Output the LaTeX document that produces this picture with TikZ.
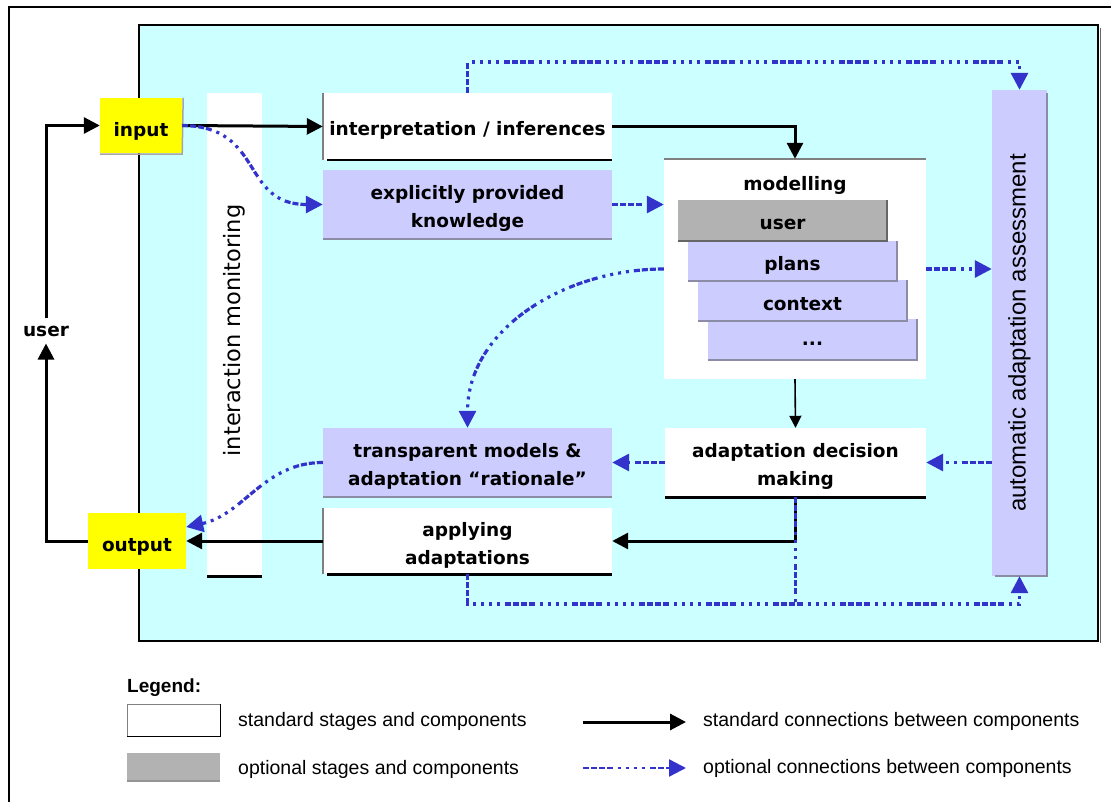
\documentclass[tikz,border=0pt]{standalone}
\usepackage{fontspec}
\setmainfont{DejaVu Sans}
\newfontfamily\arialf{Liberation Sans}
\usetikzlibrary{arrows.meta}

\definecolor{cyanbg}{HTML}{CCFFFF}
\definecolor{lav}{HTML}{CCCCFF}
\definecolor{optgrey}{HTML}{B2B2B2}
\definecolor{optblue}{HTML}{3333CC}
\definecolor{yel}{HTML}{FFFF00}
\definecolor{shadowcol}{HTML}{8C8CA6}
\definecolor{darkshadow}{HTML}{666666}

\tikzset{
  lbl/.style={font=\fontsize{18.5}{28}\selectfont\bfseries, align=center, inner sep=0pt},
  txt/.style={lbl, yshift=-4pt},
  iotxt/.style={lbl, yshift=-6pt},
  wh/.style 2 args={minimum width=#1pt, minimum height=#2pt, inner sep=0pt},
  stdbox/.style={fill=white},
  optbox/.style={fill=lav},
  iobox/.style={fill=yel},
  stackbox/.style={fill=lav, wh={209}{40}},
  stdline/.style={-{Triangle[length=16pt,width=16pt]}, line width=3pt},
  thinline/.style={-{Triangle[length=12pt,width=12pt]}, line width=1.6pt},
  optdash/.style={optblue, line width=3.2pt,
    dash pattern=on 6pt off 2pt on 6pt off 2pt on 6pt off 2pt on 6pt off 5pt on 3pt off 5pt on 3pt off 5pt on 3pt off 5pt on 3pt off 5pt},
  optline/.style={optdash, -{Triangle[length=17pt,width=17pt]}},
  shline/.style={draw=shadowcol, line width=2pt},
  baseline/.style={draw=black, line width=2.6pt},
  edgeline/.style={draw=gray, line width=2pt},
  legtext/.style={font=\arialf\fontsize{19.5}{22}\selectfont, anchor=west, inner sep=0pt},
}

\begin{document}
\begin{tikzpicture}[x=1pt, y=-1pt]
\useasboundingbox (0,0) rectangle (1111,802);

% outer frame (runs off the page on the right and bottom)
\draw[line width=2.2pt] (9,802) -- (9,7) -- (1111,7);

% system area
\draw[fill=cyanbg, line width=2.8pt] (139,25) rectangle (1098,641);
\draw[draw=darkshadow, line width=1.5pt] (1100.5,28) -- (1100.5,643);

% interaction monitoring column
\node[stdbox, wh={55}{483}] (imon) at (234.5,334.5) {};
\node[font=\fontsize{22.5}{26}\selectfont, rotate=90] at ([yshift=4pt]imon.center) {interaction monitoring};
\draw[baseline] (imon.south west) -- (imon.south east);

% input / output
\node[iobox, wh={82}{55}, label={[iotxt]center:input}] (input) at (141,125.5) {};
\draw[draw=gray!70, line width=1.5pt] ([yshift=-1pt]input.south west) -- ([yshift=-1pt]input.south east) -- ([xshift=1pt]input.north east);
\node[iobox, wh={98}{56}, label={[iotxt]center:output}] (output) at (137,541) {};

% left column of stages
\node[stdbox, wh={289}{67}, label={[txt]center:interpretation / inferences}] (interp) at (467.5,126.5) {};
\draw[edgeline] (interp.north west) -- (interp.south west);
\draw[baseline] ([xshift=4pt]interp.south west) -- (interp.south east);

\node[optbox, wh={289}{69}, label={[txt]center:{explicitly provided\\knowledge}}] (explicit) at (467.5,204.5) {};
\draw[shline] (explicit.south west) -- (explicit.south east);

\node[optbox, wh={289}{69}, label={[txt]center:{transparent models \&\\adaptation “rationale”}}] (trans) at (467.5,462.5) {};
\draw[shline] (trans.south west) -- (trans.south east);

\node[stdbox, wh={289}{66}, label={[txt]center:{applying\\adaptations}}] (applying) at (467.5,541) {};
\draw[edgeline] (applying.north west) -- (applying.south west);
\draw[baseline] ([xshift=4pt]applying.south west) -- (applying.south east);

% modelling block
\node[stdbox, wh={262}{220}] (model) at (795,269) {};
\draw[edgeline, line width=1.5pt] (model.north west) -- (model.north east);
\node[txt] (modtitle) at (795,181) {modelling};
\node[stackbox, label={[txt]center:...}] (dots) at (812.5,339.5) {};
\draw[shline] (dots.south west) -- (dots.south east) -- (dots.north east);
\node[stackbox, label={[txt]center:context}] (context) at (802.5,300.5) {};
\draw[shline] (context.south west) -- (context.south east) -- (context.north east);
\node[stackbox, label={[txt]center:plans}] (plans) at (792.5,261) {};
\draw[shline] (plans.south west) -- (plans.south east) -- (plans.north east);
\node[fill=optgrey, wh={209}{41}, label={[txt]center:user}] (user) at (782.5,220.5) {};
\draw[draw=darkshadow, line width=2pt] (user.south west) -- (user.south east) -- (user.north east);

\node[stdbox, wh={261}{69}, label={[txt]center:{adaptation decision\\making}}] (decision) at (795.5,462.5) {};
\draw[baseline] (decision.south west) -- (decision.south east);

% automatic assessment column
\node[optbox, wh={55}{486}] (auto) at (1019.5,333) {};
\draw[shline] ([xshift=3pt]auto.south west) -- (auto.south east) -- ([yshift=-3pt]auto.north east);
\node[font=\arialf\fontsize{24}{28}\selectfont, rotate=90] at (auto.center) {automatic adaptation assessment};

% user label outside the system
\node[lbl, inner sep=7pt] (userlbl) at (46,331) {user};

% standard connections
\draw[stdline] (userlbl.north) |- (input.west);
\draw[stdline] (output.west) -| (userlbl.south);
\draw[stdline] (input.east) -- (interp.west);
\draw[stdline] (interp.east) -| (model.north);
\draw[thinline] (model.south) -- (decision.north);
\draw[stdline] (decision.south) |- (applying.east);
\draw[stdline] (applying.west) -- (output.east);

% optional connections
\coordinate (topturn) at (1019.5,62);
\coordinate (botturn) at (1019.5,604);
\draw[optline] (input.east) .. controls (265,126) and (240,204.5) .. (explicit.west);
\draw[optline] (explicit.east) -- (explicit.east -| model.west);
\draw[optline] (interp.north) |- (topturn) -- (auto.north);
\draw[optline] (model.east) -- (model.east -| auto.west);
\draw[optline] (model.west) to[out=180, in=90] (trans.north);
\draw[optline] (auto.west |- decision.east) -- (decision.east);
\draw[optline] (decision.west) -- (trans.east);
\draw[optline] (trans.west) to[out=180, in=12] ([yshift=14pt]output.east);
\draw[optdash] (decision.south) -- (decision.south |- botturn);
\draw[optline] (applying.south) |- (botturn) -- (auto.south);

% legend
\node[font=\arialf\fontsize{19}{22}\selectfont\bfseries, anchor=west, inner sep=0pt] (legtitle) at (127,688) {Legend:};
\node[fill=white, draw=gray, line width=0.8pt, wh={93}{32}] (legstd) at (173.5,720) {};
\draw[draw=black, line width=1.5pt] (legstd.south west) -- (legstd.south east) -- (legstd.north east);
\node[fill=optgrey, wh={93}{28}] (legopt) at (173.5,767) {};
\draw[draw=darkshadow!70, line width=2pt] (legopt.south west) -- (legopt.south east);
\node[legtext] (legstdtxt) at (238,721) {standard stages and components};
\node[legtext] (legopttxt) at (238,769) {optional stages and components};

\coordinate (la1) at (583,722);
\coordinate (lb1) at (686,722);
\coordinate (la2) at (583,768);
\coordinate (lb2) at (686,768);
\draw[stdline] (la1) -- (lb1);
\draw[optline, line width=2.4pt] (la2) -- (lb2);
\node[legtext] (legstdcon) at (703,721) {standard connections between components};
\node[legtext] (legoptcon) at (703,768) {optional connections between components};
\end{tikzpicture}
\end{document}
